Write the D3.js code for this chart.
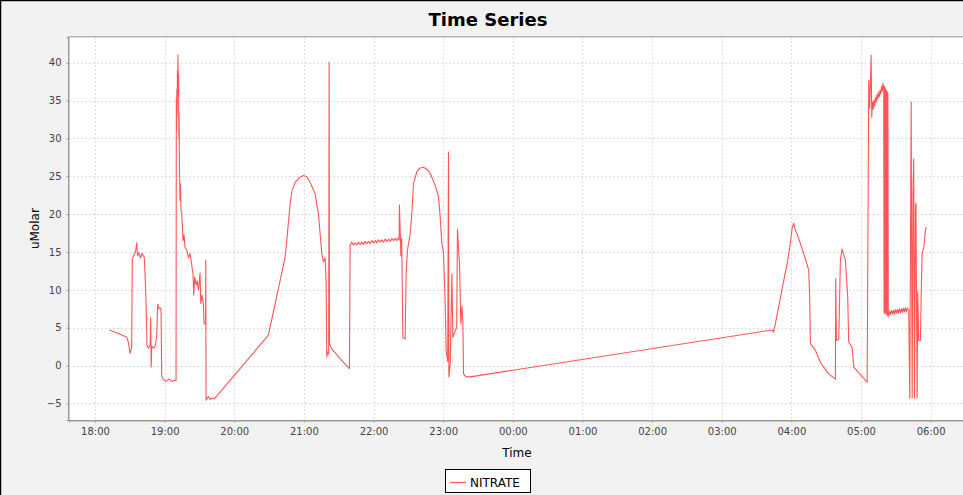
<!DOCTYPE html>
<html>
<head>
<meta charset="utf-8">
<script src="https://cdn.jsdelivr.net/npm/d3@7"></script>
<style>
  html, body { margin: 0; padding: 0; background: #f2f2f2; }
  svg { display: block; }
  text { font-family: "DejaVu Sans", sans-serif; }
</style>
</head>
<body>
<svg id="chart" width="963" height="495"></svg>
<script>
// ---- Text ----
const chartTitle = "Time Series";
const seriesName = "NITRATE";
const xLabel = "Time";
const yLabel = "uMolar";

// ---- Data: time as hours of day (after midnight continues past 24), NITRATE in uMolar ----
const hoursA = [18.211, 18.455, 18.478, 18.503, 18.527, 18.536, 18.560, 18.582, 18.599, 18.611,
  18.632, 18.654, 18.675, 18.708, 18.718, 18.733, 18.747, 18.769, 18.793, 18.800,
  18.807, 18.816, 18.848, 18.869, 18.886, 18.901, 18.920, 18.948, 18.958, 18.977,
  19.020, 19.063, 19.106, 19.157, 19.164, 19.168, 19.172, 19.176, 19.180, 19.184,
  19.188, 19.192, 19.196, 19.200, 19.204, 19.208, 19.213, 19.221, 19.226, 19.236,
  19.246, 19.264, 19.279, 19.293, 19.322, 19.343, 19.365, 19.379, 19.408, 19.418,
  19.432, 19.451, 19.466, 19.487, 19.509, 19.519, 19.537, 19.556, 19.566, 19.588,
  19.591, 19.595, 19.609, 19.628, 19.652, 19.681, 19.714];
const valuesA = [4.7, 3.75, 3.1, 1.6, 2.4, 14.1, 14.6, 15.0, 16.2, 14.5,
  14.9, 14.2, 14.8, 14.3, 12.3, 8.6, 2.6, 2.3, 2.7, 6.3,
  -0.2, 2.5, 2.3, 2.7, 4.0, 8.1, 7.5, 7.6, -1.3, -1.8,
  -2.1, -1.8, -2.1, -1.9, -2.0, 35.3, 31.0, 36.5, 33.0, 39.0,
  35.5, 41.0, 36.0, 38.5, 30.0, 33.5, 26.0, 21.8, 24.0, 20.5,
  20.1, 16.5, 17.3, 15.6, 15.2, 14.2, 14.8, 13.9, 12.1, 9.3,
  11.7, 10.6, 11.2, 10.0, 12.2, 8.2, 9.3, 8.2, 5.6, 5.4,
  13.9, -4.6, -4.4, -4.1, -4.5, -4.3, -4.4];

const hoursB = [20.490, 20.730, 20.754, 20.802, 20.830, 20.874, 20.931, 20.993, 21.046, 21.089,
  21.161, 21.208, 21.233, 21.257, 21.280, 21.305, 21.319, 21.329, 21.338, 21.356,
  21.362, 21.368, 21.401, 21.520, 21.654];
const valuesB = [4.0, 14.3, 16.5, 21.4, 23.1, 24.2, 24.8, 25.1, 24.9, 24.2,
  22.7, 20.1, 17.4, 14.8, 13.7, 14.2, 11.2, 1.1, 1.8, 1.5,
  40.1, 2.9, 2.2, 0.9, -0.4];

const hoursC = [21.664, 21.688, 21.712, 21.736, 21.760, 21.784, 21.808, 21.832, 21.856, 21.880,
  21.904, 21.928, 21.952, 21.976, 22.000, 22.024, 22.048, 22.072, 22.096, 22.120,
  22.144, 22.168, 22.192, 22.216, 22.240, 22.264, 22.288, 22.312, 22.336, 22.360, 22.368];
const valuesC = [15.9, 16.3, 15.9, 16.2, 15.9, 16.3, 16.0, 16.3, 16.0, 16.4,
  16.1, 16.4, 16.1, 16.5, 16.2, 16.5, 16.2, 16.6, 16.3, 16.6,
  16.3, 16.7, 16.4, 16.7, 16.4, 16.8, 16.5, 16.8, 16.5, 16.9, 16.6];

const hoursD = [22.372, 22.386, 22.392, 22.404, 22.421, 22.454, 22.468, 22.487, 22.526, 22.550,
  22.573, 22.622, 22.670, 22.717, 22.770, 22.813, 22.885, 22.932, 22.957, 22.981,
  23.004, 23.029, 23.043, 23.065, 23.076, 23.082, 23.101, 23.125, 23.139, 23.172,
  23.194, 23.205, 23.234, 23.254, 23.269, 23.283, 23.292, 23.330, 23.388];
const valuesD = [21.2, 16.9, 14.5, 16.8, 3.7, 3.5, 12.1, 15.2, 17.4, 20.1,
  24.0, 25.6, 26.1, 26.2, 25.9, 25.4, 23.8, 22.3, 19.6, 16.1,
  15.0, 8.2, 2.0, 0.5, 28.2, -1.5, 0.2, 12.1, 3.7, 4.6,
  5.0, 18.0, 13.4, 5.5, 7.9, 5.5, -1.1, -1.5, -1.5];

const hoursE = [27.723, 27.746, 27.947, 27.976, 28.010, 28.033, 28.057, 28.105, 28.154, 28.201,
  28.249, 28.263, 28.273, 28.345, 28.417, 28.536, 28.632, 28.637, 28.647, 28.680,
  28.704, 28.728, 28.776, 28.809, 28.823, 28.872, 28.895, 29.088, 29.111, 29.125,
  29.145, 29.154];
const valuesE = [4.7, 4.4, 13.9, 15.6, 18.1, 18.8, 17.9, 16.8, 15.4, 14.1,
  12.6, 9.0, 2.9, 2.0, 0.4, -1.1, -1.8, 11.5, 3.3, 3.5,
  13.9, 15.4, 13.9, 9.0, 3.1, 2.4, -0.2, -2.2, 37.7, 34.0,
  41.0, 32.8];

const hoursF = [29.165, 29.175, 29.185, 29.196, 29.207, 29.218, 29.229, 29.240, 29.251, 29.262,
  29.273, 29.284, 29.295, 29.305, 29.315, 29.326];
const valuesF = [34.8, 33.9, 35.0, 34.3, 35.4, 34.8, 35.8, 35.2, 36.1, 35.5,
  36.4, 35.9, 36.9, 36.2, 37.3, 36.6];

const hoursG = [29.331, 29.336, 29.341, 29.346, 29.351, 29.356, 29.361, 29.366, 29.371, 29.376,
  29.381, 29.386, 29.391];
const valuesG = [7.0, 36.9, 6.8, 36.7, 7.1, 36.5, 6.9, 36.3, 6.7, 36.2,
  6.6, 36.0, 6.5];

const hoursH = [29.398, 29.412, 29.426, 29.440, 29.454, 29.468, 29.482, 29.496, 29.510, 29.524,
  29.538, 29.552, 29.566, 29.580, 29.594, 29.608, 29.622, 29.636, 29.650, 29.664, 29.685];
const valuesH = [6.6, 7.2, 6.7, 7.3, 6.8, 7.3, 6.8, 7.4, 6.9, 7.4,
  6.9, 7.5, 7.0, 7.5, 7.0, 7.6, 7.1, 7.6, 7.1, 7.6, 7.3];

const hoursI = [29.700, 29.720, 29.734, 29.746, 29.757, 29.767, 29.782, 29.789, 29.796, 29.806,
  29.814, 29.829, 29.853, 29.864, 29.878, 29.901, 29.925, 29.940];
const valuesI = [-4.3, 34.8, -4.3, 22.7, 27.3, -4.3, 20.9, 21.5, 9.5, -4.3,
  9.7, 3.3, 3.3, 9.5, 14.8, 15.6, 17.9, 18.3];

const xDomainHours = [17.627, 30.493];
const yDomain = [-7.2, 43.36];
const yTicks = [-5, 0, 5, 10, 15, 20, 25, 30, 35, 40];

// ---- Assemble ----
const hours = [].concat(hoursA, hoursB, hoursC, hoursD, hoursE, hoursF, hoursG, hoursH, hoursI);
const nitrate = [].concat(valuesA, valuesB, valuesC, valuesD, valuesE, valuesF, valuesG, valuesH, valuesI);

const W = 963, H = 495;
const plot = { left: 69, top: 37.3, right: 965, bottom: 420 };

const base = new Date(2000, 0, 1, 0, 0, 0).getTime();
const toDate = h => new Date(base + h * 3600000);
const data = hours.map((h, i) => ({ t: toDate(h), v: nitrate[i] }));

const x = d3.scaleTime().domain(xDomainHours.map(toDate)).range([plot.left, plot.right]);
const y = d3.scaleLinear().domain(yDomain).range([plot.bottom, plot.top]);

const svg = d3.select("#chart");

svg.append("rect").attr("x", 0).attr("y", 0).attr("width", W).attr("height", H)
  .attr("fill", "#f2f2f2");
svg.append("path").attr("d", `M0.5,${H} V0.5 H${W}`)
  .attr("fill", "none").attr("stroke", "#000").attr("stroke-width", 1.5);

svg.append("text").attr("x", 488).attr("y", 26)
  .attr("text-anchor", "middle").attr("font-size", 18).attr("font-weight", "bold")
  .attr("fill", "#000").text(chartTitle);

svg.append("rect").attr("x", plot.left).attr("y", plot.top)
  .attr("width", plot.right - plot.left).attr("height", plot.bottom - plot.top)
  .attr("fill", "#fff");

const xTicks = x.ticks(d3.timeHour.every(1));

const grid = svg.append("g").attr("stroke", "#dcdcdc").attr("stroke-width", 1)
  .attr("stroke-dasharray", "2,2");
grid.selectAll("line.v").data(xTicks).join("line")
  .attr("x1", d => Math.round(x(d)) + 0.5).attr("x2", d => Math.round(x(d)) + 0.5)
  .attr("y1", plot.top).attr("y2", plot.bottom);
grid.selectAll("line.h").data(yTicks).join("line")
  .attr("y1", d => Math.round(y(d)) + 0.5).attr("y2", d => Math.round(y(d)) + 0.5)
  .attr("x1", plot.left).attr("x2", plot.right);

svg.append("clipPath").attr("id", "clip").append("rect")
  .attr("x", plot.left).attr("y", plot.top)
  .attr("width", plot.right - plot.left).attr("height", plot.bottom - plot.top);

const line = d3.line().x(d => x(d.t)).y(d => y(d.v));
svg.append("path").datum(data)
  .attr("clip-path", "url(#clip)")
  .attr("fill", "none").attr("stroke", "#ff5555").attr("stroke-width", 1.1)
  .attr("stroke-linejoin", "round")
  .attr("d", line);

svg.append("rect").attr("x", plot.left - 0.5).attr("y", plot.top - 0.5)
  .attr("width", plot.right - plot.left + 1).attr("height", plot.bottom - plot.top + 1)
  .attr("fill", "none").attr("stroke", "#999").attr("stroke-width", 1);

const xAxis = d3.axisBottom(x).tickValues(xTicks).tickFormat(d3.timeFormat("%H:%M"))
  .tickSize(2).tickPadding(5);
const gx = svg.append("g").attr("transform", `translate(0,${plot.bottom + 0.5})`).call(xAxis);
const yAxis = d3.axisLeft(y).tickValues(yTicks).tickSize(2).tickPadding(5);
const gy = svg.append("g").attr("transform", `translate(${plot.left - 0.5},0)`).call(yAxis);
[gx, gy].forEach(g => {
  g.select(".domain").attr("stroke", "#999");
  g.selectAll(".tick line").attr("stroke", "#999");
  g.selectAll(".tick text").attr("font-family", "DejaVu Sans, sans-serif")
    .attr("font-size", 10).attr("fill", "#444");
});

svg.append("text").attr("x", 517).attr("y", 457)
  .attr("text-anchor", "middle").attr("font-size", 12).attr("fill", "#000").text(xLabel);
svg.append("text").attr("transform", `translate(39,${(plot.top + plot.bottom) / 2}) rotate(-90)`)
  .attr("text-anchor", "middle").attr("font-size", 12).attr("fill", "#000").text(yLabel);

const lg = svg.append("g");
lg.append("rect").attr("x", 445.5).attr("y", 469.5).attr("width", 85).attr("height", 23)
  .attr("fill", "#fff").attr("stroke", "#000").attr("stroke-width", 1);
lg.append("line").attr("x1", 450).attr("x2", 466).attr("y1", 482.5).attr("y2", 482.5)
  .attr("stroke", "#ff5555").attr("stroke-width", 1.1);
lg.append("text").attr("x", 470).attr("y", 486.5).attr("font-size", 12).attr("fill", "#000")
  .text(seriesName);
</script>
</body>
</html>
